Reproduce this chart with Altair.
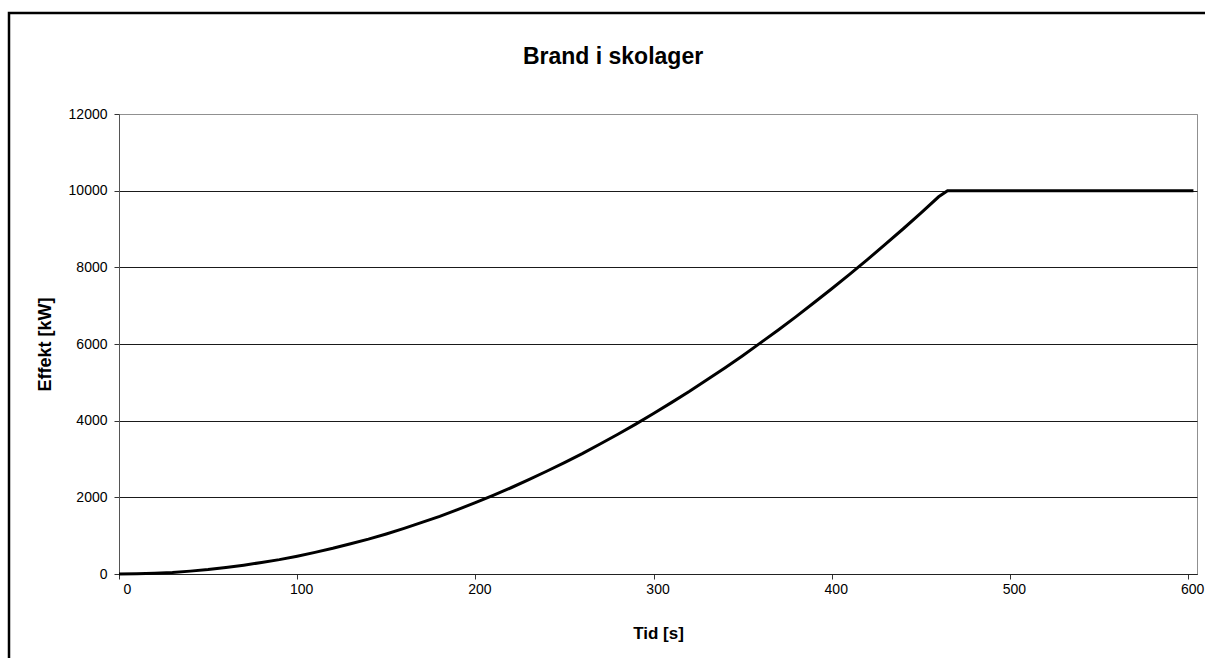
import altair as alt
import pandas as pd

# Time [s] and heat release rate [kW]
tid = [0, 10, 20, 30, 40, 50, 60, 70, 80, 90, 100, 110, 120, 130, 140, 150,
       160, 170, 180, 190, 200, 210, 220, 230, 240, 250, 260, 270, 280, 290,
       300, 310, 320, 330, 340, 350, 360, 370, 380, 390, 400, 410, 420, 430,
       440, 450, 460, 465, 603]
effekt = [0, 5, 20, 40, 75, 115, 170, 230, 300, 375, 465, 565, 670, 790, 910,
          1045, 1190, 1345, 1505, 1680, 1860, 2050, 2250, 2460, 2680, 2905,
          3140, 3390, 3645, 3910, 4185, 4470, 4760, 5065, 5375, 5695, 6030,
          6365, 6715, 7075, 7440, 7815, 8200, 8600, 9000, 9415, 9840, 10000,
          10000]

x_ticks = [0, 100, 200, 300, 400, 500, 600]
y_ticks = [0, 2000, 4000, 6000, 8000, 10000, 12000]
chart_title = ["Brand i skolager"]

df = pd.DataFrame({"Tid": tid, "Effekt": effekt})

FONT = "Liberation Sans"
W, H = 1078, 460

frame = alt.Chart(pd.DataFrame({"a": [0]})).mark_rect(
    fill=None, stroke="black", strokeWidth=2.5
).encode(
    x=alt.value(-110), y=alt.value(-101), x2=alt.value(1120), y2=alt.value(600)
)

title = alt.Chart(pd.DataFrame({"t": chart_title})).mark_text(
    font=FONT, fontSize=23, fontWeight="bold", color="black",
    align="center", baseline="alphabetic"
).encode(x=alt.value(494), y=alt.value(-50), text="t:N")

line = alt.Chart(df).mark_line(color="black", strokeWidth=3).encode(
    x=alt.X("Tid:Q",
            scale=alt.Scale(domain=[0, 605], nice=False, zero=False),
            axis=alt.Axis(title="Tid [s]", values=x_ticks, grid=False, format="d",
                          tickSize=5, tickColor="#333333", domainColor="#222222",
                          labelPadding=3, labelOffset=4, labelFontSize=14,
                          labelFont=FONT, labelColor="black",
                          titleFont=FONT, titleFontSize=17, titleFontWeight="bold",
                          titleColor="black", titleY=59, titleBaseline="middle")),
    y=alt.Y("Effekt:Q",
            scale=alt.Scale(domain=[0, 12000], nice=False),
            axis=alt.Axis(title="Effekt [kW]", values=y_ticks, grid=True, format="d",
                          gridColor={"condition": {"test": "datum.value == 12000",
                                                   "value": "#909090"},
                                     "value": "#1a1a1a"},
                          gridWidth=1, gridOpacity=1,
                          tickSize=5, tickColor="#333333", domainColor="#555555",
                          labelPadding=7, labelFontSize=14, labelFont=FONT,
                          labelColor="black",
                          titleFont=FONT, titleFontSize=18, titleFontWeight="bold",
                          titleColor="black", titleX=-74, titleY=H / 2,
                          titleBaseline="middle", titleAngle=270)),
)

chart = alt.layer(frame, title, line).properties(
    width=W, height=H,
    autosize=alt.AutoSizeParams(type="none"),
    padding={"left": 119, "top": 114, "right": 8, "bottom": 84},
    background="white",
).configure_view(stroke="#909090", strokeWidth=1)

chart.save("out.html", embed_options={"renderer": "svg", "actions": False})
